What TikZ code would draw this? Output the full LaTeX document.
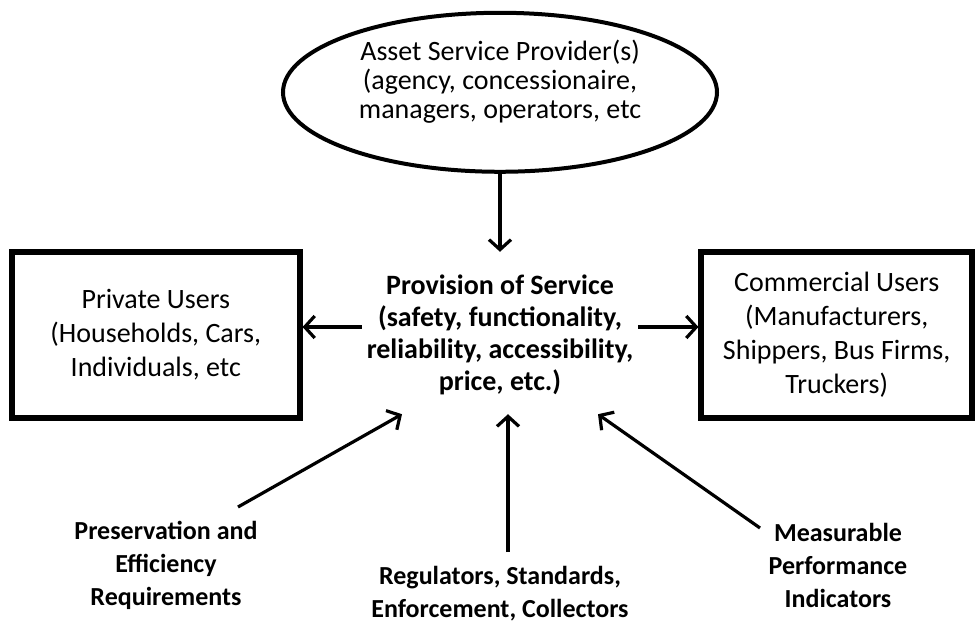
\documentclass[tikz,border=0pt]{standalone}
\usepackage{fontspec}
\setmainfont{Carlito}
\usepackage{tikz}
\usetikzlibrary{shapes, arrows.meta, positioning}
\tikzstyle{userbox} = [
    rectangle,
    draw=black,
    line width=5.5pt,
    minimum width=288pt,
    minimum height=166pt,
    align=center,
    font=\fontsize{28}{34}\selectfont
]
\tikzstyle{assetoval} = [
    ellipse,
    draw=black,
    line width=4pt,
    inner sep=0pt,
    minimum width=434pt,
    minimum height=159pt,
    text depth=26pt,
    align=center,
    font=\fontsize{28}{29}\selectfont
]
\tikzstyle{central} = [
    align=center,
    inner sep=5pt,
    font=\bfseries\fontsize{28}{32}\selectfont
]
\tikzstyle{factor} = [
    align=center,
    font=\bfseries\fontsize{26}{33}\selectfont
]
\tikzstyle{flow} = [
    line width=3.2pt,
    -{Straight Barb[length=10pt, width=22pt]}
]

\begin{document}
\begin{tikzpicture}[x=1pt, y=-1pt]
            \useasboundingbox (0,0) rectangle (978,626);
            \node[central] (service) at (500,335) {Provision of Service\\(safety, functionality,\\reliability, accessibility,\\price, etc.)};
            \node[assetoval] (provider) [above=96pt of service] {Asset Service Provider(s)\\(agency, concessionaire,\\managers, operators, etc};
            \node[userbox] (private) [left=59pt of service] {Private Users\\(Households, Cars,\\Individuals, etc};
            \node[userbox, minimum width=271pt] (commercial) [right=60pt of service] {Commercial Users\\(Manufacturers,\\Shippers, Bus Firms,\\Truckers)};
            \node[factor] (preserve) at (166,565) {Preservation and\\Efficiency\\Requirements};
            \node[factor] (regulate) at (500,594) {Regulators, Standards,\\Enforcement, Collectors};
            \node[factor] (measure) at (838,565) {Measurable\\Performance\\Indicators};

            \coordinate (preserveend) at (238,507);
            \coordinate (regulateend) at (508,552);
            \coordinate (measureend) at (760,528);

            \draw[flow] (provider.south) -- ([yshift=18pt]service.north);
            \draw[flow] ([yshift=8pt]service.west) -- ([yshift=8pt]private.east);
            \draw[flow] ([yshift=8pt]service.east) -- ([yshift=8pt]commercial.west);
            \draw[flow] (preserveend) -- ([xshift=-98pt, yshift=-14pt]service.south);
            \draw[flow] (regulateend) -- ([xshift=8pt, yshift=-14pt]service.south);
            \draw[flow] (measureend) -- ([xshift=98pt, yshift=-14pt]service.south);
        \end{tikzpicture}
\end{document}
